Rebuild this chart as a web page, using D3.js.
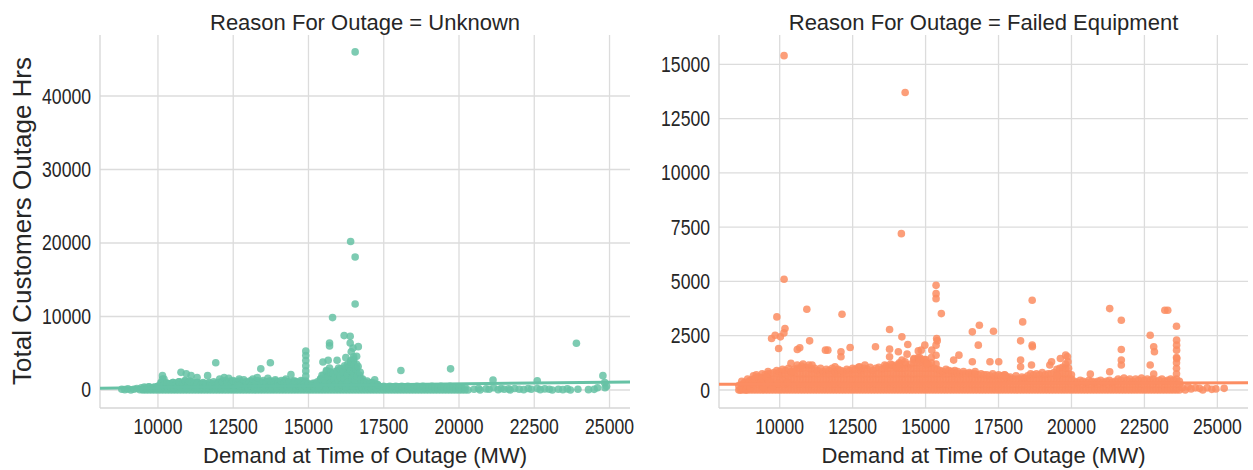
<!DOCTYPE html>
<html><head><meta charset="utf-8">
<script src="https://cdn.jsdelivr.net/npm/d3@7"></script>
<style>body{margin:0;background:#fff}text{font-family:"Liberation Sans",Arial,sans-serif;fill:#262626}</style>
</head><body><svg id="c" width="1253" height="470"></svg>
<script>
// ---- data: [demand MW, total customer outage hrs] ----
const unknownPoints = [
[8800,100],[8900,50],[9000,150],[9100,0],[9200,100],[9300,200],[9400,50],[9450,300],
[9500,100],[9550,400],[9650,200],[9700,450],[9800,150],[9850,350],[9950,250],[10000,500],
[10100,200],[10120,1000],[10150,1500],[10150,1950],[10200,700],[10250,300],[10300,900],
[10350,200],[10400,800],[10450,300],[10500,1000],[10550,150],[10600,700],[10650,400],[10700,1100],
[10765,2400],[10780,300],[10850,900],[10900,1300],[10940,2200],[10950,200],[11000,800],[11050,1200],[11100,1950],[11120,400],[11200,900],[11250,300],[11300,1700],[11320,1000],[11400,200],
[11450,700],[11500,1000],[11550,300],[11650,1950],[11600,800],[11700,200],[11750,900],[11800,500],[11850,1100],[11920,3700],[11950,300],[12000,800],
[12050,1500],[12100,200],[12150,1100],[12200,1700],[12250,400],[12300,1000],[12350,1600],[12400,200],[12450,900],[12500,1300],
[12550,300],[12600,1100],[12650,700],[12700,1500],[12750,200],[12800,900],[12850,1400],[12900,400],[12950,1000],[13000,200],[13050,1200],[13100,600],[13150,1500],[13200,300],[13250,1000],[13300,1700],[13350,200],[13416,2880],[13450,800],[13500,1300],
[13550,300],[13600,1000],[13650,1600],[13734,3700],[13700,500],[13750,1200],[13800,200],[13850,900],[13900,1400],[13950,300],[14000,1000],[14050,600],[14100,1300],[14150,200],[14200,900],[14250,1500],[14300,400],[14350,1100],[14417,2090],[14450,300],[14500,800],[14550,1200],[14600,200],[14650,900],[14700,500],[14750,1300],[14800,200],[14850,1000],
[14910,500],[14910,1200],[14910,1900],[14910,2600],[14910,3300],[14910,4000],[14910,4700],[14910,5300],[14950,300],
[15000,800],[15050,200],[15100,600],[15150,900],[15200,300],[15250,700],[15300,1100],[15350,200],
[15400,1500],[15450,2000],[15480,3800],[15500,500],[15550,1200],[15595,2650],[15600,300],[15655,4050],[15650,1800],[15700,6400],[15700,6000],[15720,900],[15750,2300],[15800,9850],[15800,400],[15830,2200],[15850,1500],[15900,800],[15950,4050],[15950,2600],[16000,1300],[16000,300],[16065,2900],[16050,1900],[16100,700],[16150,2400],[16185,7400],[16200,3300],[16200,1500],[16240,4400],[16250,400],[16300,2100],[16300,1000],[16360,3100],[16385,7300],[16385,6400],[16400,20200],[16400,2600],[16420,3800],[16420,5200],[16450,1600],[16450,500],[16480,5700],[16500,2300],[16500,4200],[16520,3400],[16550,46000],[16550,18100],[16550,11700],[16550,1200],[16580,2800],[16600,4600],[16620,1900],[16655,5900],[16650,3200],[16700,800],[16720,2400],[16750,1500],[16800,300],[16850,1000],[16900,500],[16950,1200],[17000,300],
[17050,900],[17100,200],[17150,600],[17200,1400],[17250,300],[17300,700],
[18070,2650],[19720,2880],
[20500,100],[20650,200],[20700,0],[20900,150],[21000,100],[21130,1350],[21150,300],[21300,50],[21400,200],[21500,100],[21650,150],[21700,0],[21850,200],[22000,100],[22150,50],[22300,200],[22400,100],[22600,1250],[22600,200],[22700,50],[22850,150],[23000,100],[23100,0],[23300,100],[23450,50],[23600,150],[23700,0],[23900,6370],[23950,100],[24300,50],[24490,90],[24600,300],[24780,1950],[24840,1000],[24850,300],[24900,500]
];
// dense band: [demand, hours, hours, ...] per demand column
const unknownColumns = [
[9500,0],[9600,0,300],[9700,0,400],[9800,0,300],[9900,0,400],[10000,0,500],
[10100,0,500,1000],[10200,0,500,1000,1500],[10300,0,500,900],
[10400,0,500,800],[10500,0,500,1000],[10600,0,500,900],[10700,0,500,1100],[10800,0,500,1000],[10900,0,500,1200],[11000,0,500,1000],[11100,0,500,1100],[11200,0,500,900],[11300,0,500,1000],[11400,0,500,800],
[11500,0,500,900],[11600,0,500,800],[11700,0,500,1000],[11800,0,500,700],[11900,0,500,900],[12000,0,500,1000],
[12100,0,500,1100],[12200,0,500,1300],[12300,0,500,1000],[12400,0,500,1200],[12500,0,500,1100],
[12600,0,500,1000],[12700,0,500,1200],[12800,0,500,900],[12900,0,500,1100],[13000,0,500,1000],[13100,0,500,1200],[13200,0,500,1000],[13300,0,500,1300],[13400,0,500,1100],[13500,0,500,1000],
[13600,0,500,1100],[13700,0,500,1200],[13800,0,500,1000],[13900,0,500,1200],[14000,0,500,1100],[14100,0,500,1000],[14200,0,500,1300],[14300,0,500,1100],[14400,0,500,1000],[14500,0,500,1200],[14600,0,500,1100],[14700,0,500,1000],[14800,0,500,1200],[14900,0,500,1000],
[15000,0,500,800],[15100,0,500,700],[15200,0,500,900],[15300,0,500,800],[15400,0,500,1000,1500],
[15500,0,500,1000,1500,2000],[15600,0,500,1000,1500,2000,2500],[15700,0,500,1000,1500,2000,2500,3000],[15800,0,500,1000,1500,2000],[15900,0,500,1000,1500,2000,2500],[16000,0,500,1000,1500,2000,2500,3000],[16100,0,500,1000,1500,2000,2500],[16200,0,500,1000,1500,2000,2500,3000],[16300,0,500,1000,1500,2000,2500,3000,3500],[16400,0,500,1000,1500,2000,2500,3000,3500,4000],[16500,0,500,1000,1500,2000,2500,3000,3500,4000,4500],[16600,0,500,1000,1500,2000,2500,3000,3500],[16700,0,500,1000,1500,2000],[16800,0,500,1000,1500],[16900,0,500,1000],
[17000,0,500,800],[17100,0,500,1000],[17200,0,500,900],[17300,0,500,700],
[17400,0,400],[17500,0,500],[17600,0,300],[17700,0,500],[17800,0,400],[17900,0,500],[18000,0,300],[18100,0,500],[18200,0,400],[18300,0,500],[18400,0,400],[18500,0,300],[18600,0,500],[18700,0,400],[18800,0,500],[18900,0,300],[19000,0,400],[19100,0,500],[19200,0,400],[19300,0,300],[19400,0,500],[19500,0,400],[19600,0,300],[19700,0,500],[19800,0,400],[19900,0,300],[20000,0,400],[20100,0,300],[20200,0,400],[20300,0]
];
const failedPoints = [
[8650,0],[8700,150],[8750,50],[8800,300],[8850,0],[8900,200],[8950,400],[9000,100],
[9050,300],[9150,500],[9250,600],[9350,350],[9400,550],[9450,100],
[9550,600],[9650,400],[9722,2370],[9750,150],[9843,2525],[9903,3366],[9950,300],[9964,1912],[10024,2448],
[10145,2630],[10150,5100],[10150,15400],[10181,2830],[10250,350],[10386,1224],[10450,850],
[10604,1866],[10688,1943],[10750,1100],[10930,3718],[11026,2264],[11110,1148],
[11569,1836],[11650,1836],[11895,1071],
[12100,1760],[12100,1530],[12136,3488],[12414,1958],
[12740,1071],[12921,1148],[13283,1989],
[13650,1100],[13766,2785],[13766,1882],[13766,1530],[13850,1150],[14007,1071],[14067,1760],[14100,1200],[14188,2448],[14188,1377],[14170,7200],[14300,1300],[14300,13700],[14366,1652],[14390,2096],
[14600,1400],[14750,1800],[14750,1500],[14792,1377],[14852,1836],[14950,1400],[14973,2066],[15050,1200],[15214,1836],[15200,1500],
[15359,4820],[15359,4437],[15359,4208],[15359,2066],[15359,1600],[15359,1200],[15380,2372],[15400,2264],[15540,3519],
[16143,1606],[15962,1377],[16602,1300],[16602,2678],[16807,2066],[16843,2984],
[17206,1300],[17327,2708],[17507,1300],[17725,689],
[18256,2264],[18256,1377],[18256,1071],[18328,3137],
[18630,1148],[18654,4131],[18654,2066],[18660,1989],[19258,1148],[19318,1300],
[19500,643],[19620,1454],[19800,1606],[19862,1530],[19880,1300],
[20646,734],[21310,3748],[21310,841],
[21708,3213],[21708,1866],[21708,1377],[21708,1148],
[22698,2525],[22698,1148],[22818,1989],[22818,734],[22843,1760],[23200,3672],[23300,3672],
[23600,2937],[23603,2295],[23603,2066],[23603,1836],[23610,1454],
[23800,100],[23900,0],[24000,150],[24100,50],[24250,100],[24387,77],[24500,0],[24650,100],[24810,30],[24950,50],[25233,77]
];
const failedColumns = [
[8600,0,200],[8700,0,250,400],[8800,0,250,350],[8900,0,250,500],[9000,0,250,450],
[9100,0,250,500,650],[9200,0,250,500,700],[9300,0,250,500,600],[9400,0,250,500,750],[9500,0,250,500,700],
[9600,0,250,500,750,850],[9700,0,250,500,750],[9800,0,250,500,800],[9900,0,250,500,750,900],[10000,0,250,500,750,850],
[10100,0,250,500,750,950],[10200,0,250,500,750,900],[10300,0,250,500,750,1000],[10400,0,250,500,750,850],[10500,0,250,500,750,950],
[10600,0,250,500,750,1000,1150],[10700,0,250,500,750,1000],[10800,0,250,500,750,1000,1200],[10900,0,250,500,750,1050],[11000,0,250,500,750,1000,1150],[11100,0,250,500,750,950],[11200,0,250,500,750,1000],
[11300,0,250,500,750,900],[11400,0,250,500,750,1000],[11500,0,250,500,750,850],[11600,0,250,500,750,950],[11700,0,250,500,750,900],[11800,0,250,500,750,1000],[11900,0,250,500,750,850],[12000,0,250,500,750,950],
[12100,0,250,500,750,900],[12200,0,250,500,750,850],[12300,0,250,500,750,950],[12400,0,250,500,750,900],[12500,0,250,500,750,1000],
[12600,0,250,500,750,950],[12700,0,250,500,750,1050],[12800,0,250,500,750,900],[12900,0,250,500,750,1000],[13000,0,250,500,750,950],[13100,0,250,500,750,1050],[13200,0,250,500,750,900],[13300,0,250,500,750,1000],[13400,0,250,500,750,1050],[13500,0,250,500,750,950],
[13600,0,250,500,750,1000,1150],[13700,0,250,500,750,1000],[13800,0,250,500,750,1000,1200],[13900,0,250,500,750,1050],[14000,0,250,500,750,1000,1150],[14100,0,250,500,750,1000,1250],[14200,0,250,500,750,1000],[14300,0,250,500,750,1000,1200],[14400,0,250,500,750,1050],[14500,0,250,500,750,1000,1200],
[14600,0,250,500,750,1000,1250,1450],[14700,0,250,500,750,1000,1250],[14800,0,250,500,750,1000,1250,1500],[14900,0,250,500,750,1000,1300],[15000,0,250,500,750,1000,1250,1400],[15100,0,250,500,750,1000,1200],[15200,0,250,500,750,1000,1250],[15300,0,250,500,750,1000],
[15400,0,250,500,750,950],[15500,0,250,500,750,900],[15600,0,250,500,750,850],[15700,0,250,500,750,950],[15800,0,250,500,750,900],[15900,0,250,500,750,850],[16000,0,250,500,750,900],
[16100,0,250,500,750,850],[16200,0,250,500,750],[16300,0,250,500,750,850],[16400,0,250,500,750],[16500,0,250,500,750,800],[16600,0,250,500,750],[16700,0,250,500,750,850],[16800,0,250,500,700],[16900,0,250,500,750],[17000,0,250,500,700],
[17100,0,250,500,700],[17200,0,250,500,650],[17300,0,250,500,750],[17400,0,250,500,650],[17500,0,250,500,700],[17600,0,250,500,650],[17700,0,250,500,700],[17800,0,250,500,600],
[17900,0,250,500,600],[18000,0,250,500],[18100,0,250,500,650],[18200,0,250,500],[18300,0,250,500,600],[18400,0,250,500,550],[18500,0,250,500,650],
[18600,0,250,500,750],[18700,0,250,500,700],[18800,0,250,500,750],[18900,0,250,500,700],[19000,0,250,500,800],[19100,0,250,500,700],[19200,0,250,500,750],[19300,0,250,500,750],[19400,0,250,500,800],
[19500,0,250,500,750,950],[19600,0,250,500,750,1000],[19700,0,250,500,750,1050],[19800,0,250,500,750,1000,1200],[19900,0,250,500,750,1000],[20000,0,250,500,700],
[20100,0,250,400],[20200,0,250,350],[20300,0,250,450],[20400,0,250,400],[20500,0,250,350],[20600,0,250,450],[20700,0,250,400],[20800,0,250,350],[20900,0,250,400],[21000,0,250,450],[21100,0,250,350],[21200,0,250,400],[21300,0,250,450],[21400,0,250,350],[21500,0,250,400],
[21600,0,250,500],[21700,0,250,450],[21800,0,250,550],[21900,0,250,450],[22000,0,250,500],[22100,0,250,400],[22200,0,250,500],[22300,0,250,450],[22400,0,250,550],[22500,0,250,450],
[22600,0,250,500],[22700,0,250,450],[22800,0,250,500],[22900,0,250,400],[23000,0,250,450],[23100,0,250,500],[23200,0,250,400],[23300,0,250,450],[23400,0,250,500],[23500,0,250,450],
[23600,0,250,500,750,1000,1250,1500],[23700,0,250,400]
];
// regression fit lines (demand, hours) at the axis limits
const unknownFitDemand = [8075, 25680];
const unknownFitHours = [250, 1100];
const failedFitDemand = [7920, 26050];
const failedFitHours = [260, 330];
// axis ticks
const demandTicks = [10000, 12500, 15000, 17500, 20000, 22500, 25000];
const unknownHourTicks = [0, 10000, 20000, 30000, 40000];
const failedHourTicks = [0, 2500, 5000, 7500, 10000, 12500, 15000];
const panelTitles = ["Reason For Outage = Unknown", "Reason For Outage = Failed Equipment"];
const xAxisTitle = "Demand at Time of Outage (MW)";
const yAxisTitle = "Total Customers Outage Hrs";

const expand = cols => cols.flatMap(c => c.slice(1).map(h => [c[0], h]));

const svg = d3.select("#c");
const panels = [
  {title: panelTitles[0], pts: expand(unknownColumns).concat(unknownPoints), fx: unknownFitDemand, fy: unknownFitHours, yt: unknownHourTicks,
   color: "#66c2a5", xd: [8075, 25680], yd: [-2450, 48300], x0: 100, x1: 630},
  {title: panelTitles[1], pts: expand(failedColumns).concat(failedPoints), fx: failedFitDemand, fy: failedFitHours, yt: failedHourTicks,
   color: "#fc8d62", xd: [7920, 26050], yd: [-829, 16350], x0: 719, x1: 1248}
];
const plotTop = 35, plotBottom = 408;

function label(g, x, y, s, size, anchor, sx) {
  g.append("text").attr("transform", `translate(${x},${y}) scale(${sx},1)`)
    .attr("text-anchor", anchor).style("font-size", size + "px").text(s);
}

panels.forEach(p => {
  const x = d3.scaleLinear().domain(p.xd).range([p.x0, p.x1]);
  const y = d3.scaleLinear().domain(p.yd).range([plotBottom, plotTop]);
  const g = svg.append("g");
  g.selectAll(".vg").data(demandTicks).join("line")
    .attr("x1", d => x(d)).attr("x2", d => x(d)).attr("y1", plotTop).attr("y2", plotBottom)
    .attr("stroke", "#dcdcdc").attr("stroke-width", 1.3);
  g.selectAll(".hg").data(p.yt).join("line")
    .attr("x1", p.x0).attr("x2", p.x1).attr("y1", d => y(d)).attr("y2", d => y(d))
    .attr("stroke", "#dcdcdc").attr("stroke-width", 1.3);
  g.append("line").attr("x1", p.x0).attr("x2", p.x0).attr("y1", plotTop).attr("y2", plotBottom).attr("stroke", "#d6d6d6").attr("stroke-width", 1.3);
  g.append("line").attr("x1", p.x0).attr("x2", p.x1).attr("y1", plotBottom).attr("y2", plotBottom).attr("stroke", "#d6d6d6").attr("stroke-width", 1.3);
  g.append("g").selectAll("circle").data(p.pts).join("circle")
    .attr("cx", d => x(d[0])).attr("cy", d => y(d[1])).attr("r", 3.8)
    .attr("fill", p.color).attr("fill-opacity", 0.85);
  g.append("line").attr("x1", x(p.fx[0])).attr("x2", x(p.fx[1]))
    .attr("y1", y(p.fy[0])).attr("y2", y(p.fy[1]))
    .attr("stroke", p.color).attr("stroke-width", 3);
  demandTicks.forEach(t => label(g, x(t), 434, t, 22, "middle", 0.8));
  p.yt.forEach(t => label(g, p.x0 - 9, y(t) + 7.5, t, 22, "end", 0.8));
  label(g, (p.x0 + p.x1) / 2, 30, p.title, 22, "middle", 1);
  label(g, (p.x0 + p.x1) / 2, 463, xAxisTitle, 22, "middle", 1);
});
svg.append("text").attr("transform", "translate(31,221) rotate(-90)")
  .attr("text-anchor", "middle").style("font-size", "26px").text(yAxisTitle);
</script></body></html>
